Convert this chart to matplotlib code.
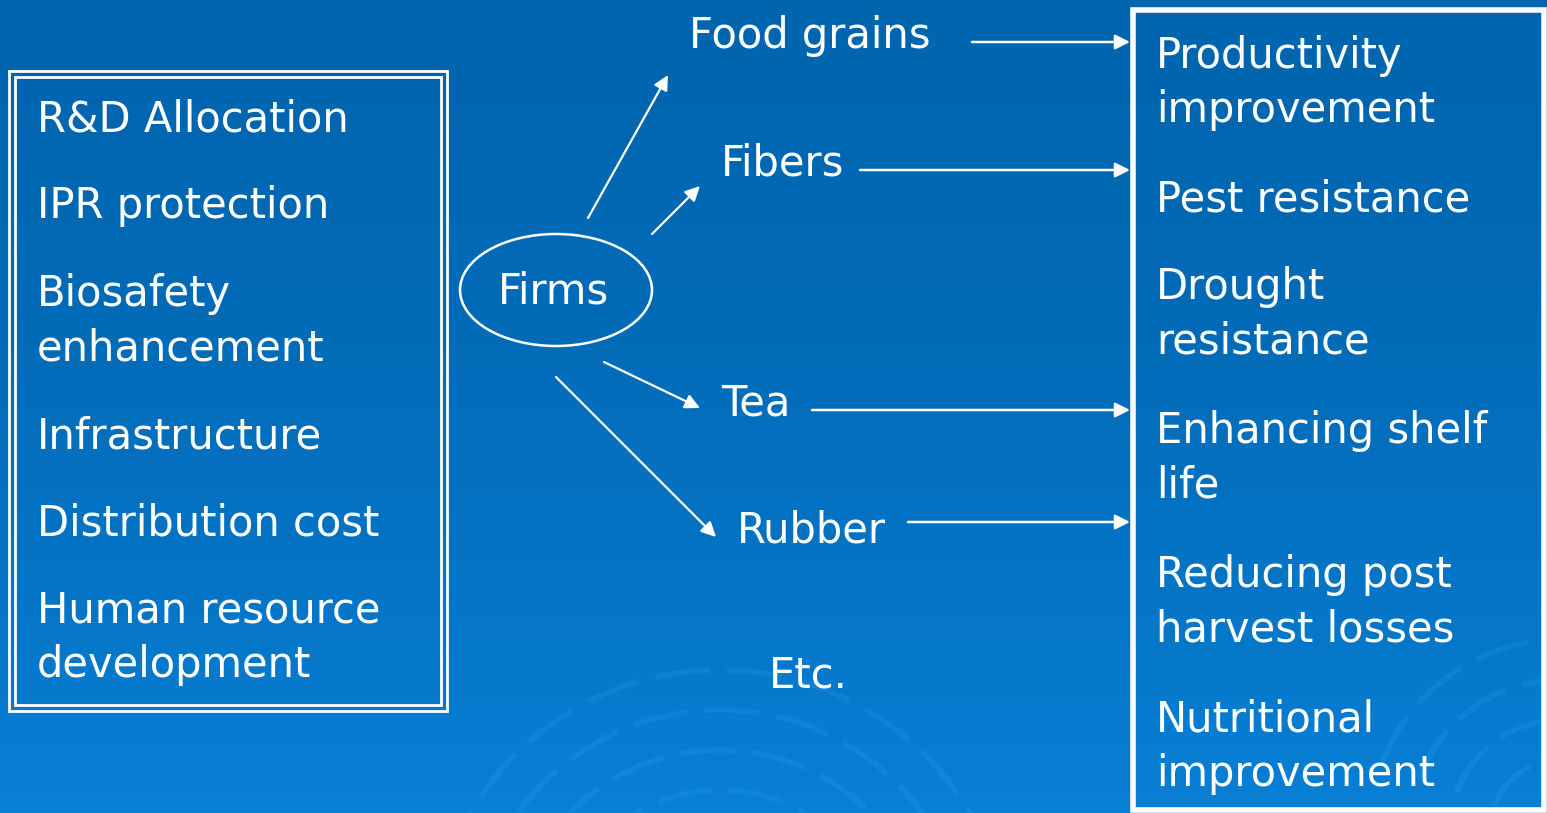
import numpy as np
import matplotlib.pyplot as plt
from matplotlib.patches import Rectangle, Ellipse, Arc

# text content
left_items = ['R&D Allocation', 'IPR protection', 'Biosafety\nenhancement',
              'Infrastructure', 'Distribution cost', 'Human resource\ndevelopment']
crops = ['Food grains', 'Fibers', 'Tea', 'Rubber', 'Etc.']
right_items = ['Productivity\nimprovement', 'Pest resistance', 'Drought\nresistance',
               'Enhancing shelf\nlife', 'Reducing post\nharvest losses',
               'Nutritional\nimprovement']
centre = 'Firms'

W, H = 1547, 813
fig = plt.figure(figsize=(W / 100, H / 100), dpi=100)
ax = fig.add_axes([0, 0, 1, 1])
ax.set_xlim(0, W)
ax.set_ylim(H, 0)
ax.axis('off')

# background gradient
top = np.array([0, 101, 175]) / 255
bot = np.array([8, 128, 214]) / 255
t = np.linspace(0, 1, 200)[:, None, None] ** 1.6
grad = top * (1 - t) + bot * t
ax.imshow(np.repeat(grad, 2, axis=1), extent=[0, W, H, 0], aspect='auto', zorder=0)

# faint arcs decoration
for cx, cy, r0 in [(720, 960, 170), (1560, 830, 70)]:
    for k in range(4):
        r = r0 + k * 40
        ax.add_patch(Arc((cx, cy), 2 * r, 2 * r, theta1=200, theta2=340,
                         color='#3aa6f5', lw=4, alpha=0.18, ls=(0, (10, 3)), zorder=1))

font = 'DejaVu Sans'
fs = 30
ls = 1.38
wc = 'white'

# left double box
ax.add_patch(Rectangle((9, 71), 438, 640, fill=False, ec=wc, lw=2, zorder=3))
ax.add_patch(Rectangle((15, 77), 426, 628, fill=False, ec=wc, lw=2, zorder=3))
left_y = [119, 206, 321, 436, 523, 638]
for s, y in zip(left_items, left_y):
    ax.text(37, y, s, color=wc, fontsize=fs, family=font, va='center', ha='left',
            linespacing=ls, zorder=4)

# firms ellipse
ax.add_patch(Ellipse((556, 290), 192, 112, fill=False, ec=wc, lw=1.8, zorder=3))
ax.text(553, 291, centre, color=wc, fontsize=fs, family=font, ha='center', va='center', zorder=4)

# diagonal arrows and crop labels
diag = [((588, 218), (668, 75)), ((652, 234), (700, 186)),
        ((604, 362), (700, 408)), ((556, 377), (716, 537))]
for (x0, y0), (x1, y1) in diag:
    ax.annotate('', xy=(x1, y1), xytext=(x0, y0),
                arrowprops=dict(arrowstyle='-|>', color=wc, lw=1.6, mutation_scale=22,
                                shrinkA=0, shrinkB=0), zorder=4)
crop_pos = [(689, 36), (721, 163), (721, 403), (737, 530), (769, 675)]
for s, (x, y) in zip(crops, crop_pos):
    ax.text(x, y, s, color=wc, fontsize=fs, family=font, ha='left', va='center', zorder=4)

# horizontal arrows into right box
horiz = [(972, 42), (860, 170), (812, 410), (908, 522)]
for x0, y in horiz:
    ax.annotate('', xy=(1130, y), xytext=(x0, y),
                arrowprops=dict(arrowstyle='-|>', color=wc, lw=1.8, mutation_scale=22,
                                shrinkA=0, shrinkB=0), zorder=4)

# right box
ax.add_patch(Rectangle((1133, 10), 411, 800, fill=False, ec=wc, lw=4, zorder=3))
right_y = [83, 199, 314, 458, 602, 747]
for s, y in zip(right_items, right_y):
    ax.text(1156, y, s, color=wc, fontsize=fs, family=font, va='center', ha='left',
            linespacing=ls, zorder=4)

fig.savefig('out.png', dpi=100)
